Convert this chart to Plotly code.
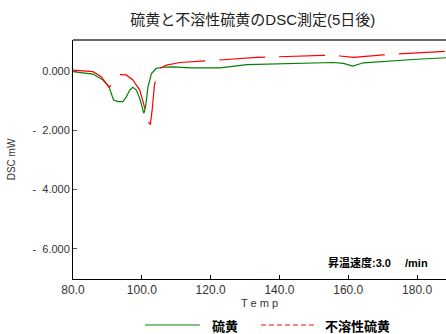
import plotly.graph_objects as go

# 硫黄 (green, solid)
sulfur_T = [80, 85.8, 88.7, 90.5, 91.1, 91.8, 93.1, 94.5, 95.5, 96.5, 97.4, 98.4, 99.4, 100.1, 100.6,
            101.1, 101.8, 102.8, 104.2, 106.2, 109.1, 114, 122.7, 130.5, 143.1, 155.7, 158.6, 161.3,
            164.4, 172.2, 180, 188.4]
sulfur_y = [-0.02, -0.10, -0.30, -0.53, -0.75, -0.98, -1.03, -1.03, -0.87, -0.64, -0.55, -0.64, -0.92,
            -1.20, -1.43, -1.20, -0.53, -0.08, 0.09, 0.13, 0.14, 0.11, 0.11, 0.22, 0.26, 0.29, 0.26,
            0.17, 0.28, 0.35, 0.40, 0.45]

# 不溶性硫黄 (red, dashed)
insol_T = [80, 85.8, 88.2, 89.7, 90.5, 93.4, 95.5, 97.4, 99.4, 100.5, 101.3, 102.1, 102.5, 103.0, 103.5,
           103.7, 105.3, 107.2, 111.1, 117.4, 121.9, 133.4, 152.7, 157.6, 161.5, 170.2, 180, 188.4]
insol_y = [0.03, -0.02, -0.19, -0.41, -0.55, -0.12, -0.13, -0.30, -0.64, -1.09, -1.48, -1.76, -1.79,
           -1.32, -0.64, -0.44, 0.09, 0.20, 0.29, 0.35, 0.37, 0.46, 0.53, 0.51, 0.46, 0.55, 0.61, 0.67]

series_names = ["硫黄", "不溶性硫黄"]

x_ticks = [80, 100, 120, 140, 160, 180]
x_ticktext = ["80.0", "100.0", "120.0", "140.0", "160.0", "180.0"]
y_ticks = [0, -2, -4, -6]
y_ticktext = ["0.000", "-  2.000", "-  4.000", "-  6.000"]

FONT = "Liberation Sans, Arial, Noto Sans CJK JP"
TICKFONT = dict(family=FONT, size=11, color="#333333")
XTICKFONT = dict(family=FONT, size=12, color="#333333")

fig = go.Figure()
fig.add_trace(go.Scatter(x=sulfur_T, y=sulfur_y, mode="lines", name=series_names[0], showlegend=False,
                         line=dict(color="#008000", width=1.2)))
fig.add_trace(go.Scatter(x=insol_T, y=insol_y, mode="lines", name=series_names[1], showlegend=False,
                         line=dict(color="#ff0000", width=1.2, dash="46px,14px")))

# manual legend (paper coords; plot area spans 373x239 px)
legend_y = -0.1925
shapes = [
    dict(type="line", xref="paper", yref="paper", x0=0, x1=1, y0=1, y1=1,
         line=dict(color="#666666", width=2)),
    dict(type="line", xref="paper", yref="paper", x0=0.193, x1=0.340, y0=legend_y, y1=legend_y,
         line=dict(color="#008000", width=1)),
    dict(type="line", xref="paper", yref="paper", x0=0.504, x1=0.654, y0=legend_y, y1=legend_y,
         line=dict(color="#ff0000", width=1, dash="5px,3px")),
]
LEGFONT = dict(family="Noto Sans CJK JP", size=13, color="black", weight="bold")
annotations = [
    dict(text="<b>" + series_names[0] + "</b>", xref="paper", yref="paper", x=0.367, y=legend_y,
         xanchor="left", yanchor="middle", showarrow=False, font=LEGFONT),
    dict(text="<b>" + series_names[1] + "</b>", xref="paper", yref="paper", x=0.670, y=legend_y,
         xanchor="left", yanchor="middle", showarrow=False, font=LEGFONT),
    dict(text="<b>昇温速度:3.0 　/min</b>", xref="paper", yref="paper",
         x=0.957, y=0.067, xanchor="right", yanchor="middle", showarrow=False,
         font=dict(family="Liberation Sans, Noto Sans CJK JP", size=11, color="black")),
]

fig.update_layout(
    width=446, height=334,
    margin=dict(l=73, r=0, t=40, b=55, autoexpand=False),
    paper_bgcolor="white", plot_bgcolor="white",
    showlegend=False,
    title=dict(text="硫黄と不溶性硫黄のDSC測定(5日後)", x=0.567, xanchor="center",
               y=0.94, yanchor="middle", font=dict(family=FONT, size=15, color="#222222")),
    xaxis=dict(range=[80, 188.4], tickvals=x_ticks, ticktext=x_ticktext, automargin=False,
               showgrid=False, zeroline=False, showline=True, linecolor="black", linewidth=1,
               ticks="inside", ticklen=4, tickcolor="black", tickfont=XTICKFONT,
               title=dict(text="T e m p", font=dict(family=FONT, size=11, color="#333333"), standoff=0)),
    yaxis=dict(range=[-7.02, 1.05], tickvals=y_ticks, ticktext=y_ticktext, automargin=False,
               showgrid=False, zeroline=False, showline=True, linecolor="black", linewidth=1,
               ticks="inside", ticklen=4, tickcolor="#555555", tickfont=TICKFONT,
               title=dict(text="DSC mW", font=dict(family=FONT, size=10, color="#333333"), standoff=14)),
    shapes=shapes,
    annotations=annotations,
)

fig.write_html("out.html", config={"displayModeBar": False},
               post_script="document.body.style.margin='0';")
